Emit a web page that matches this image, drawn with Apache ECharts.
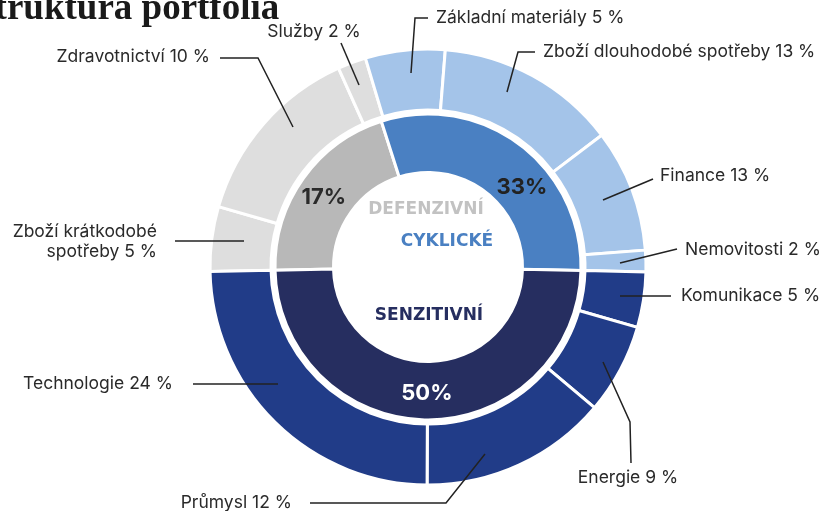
<!DOCTYPE html>
<html>
<head>
<meta charset="utf-8">
<script src="https://cdn.jsdelivr.net/npm/echarts@6/dist/echarts.min.js"></script>
<style>
  html, body { margin: 0; padding: 0; background: #fff; }
  #chart { width: 820px; height: 511px; }
</style>
</head>
<body>
<div id="chart"></div>
<script>
// vnitřní kruh – skupiny
const groupNames = ['DEFENZIVNÍ', 'CYKLICKÉ', 'SENZITIVNÍ'];
const groupShares = [17, 33, 50];            // vytištěné popisky
const groupValues = [20.4, 30.3, 49.3];      // úhel výseče

// vnější kruh – sektory
const sectorNames = [
  'Zboží krátkodobé\nspotřeby', 'Zdravotnictví', 'Služby',
  'Základní materiály', 'Zboží dlouhodobé spotřeby', 'Finance', 'Nemovitosti',
  'Komunikace', 'Energie', 'Průmysl', 'Technologie'
];
const sectorShares = [5, 10, 2, 5, 13, 13, 2, 5, 9, 12, 24];
const sectorValues = [4.8, 13.8, 2.1, 5.9, 13.4, 9.1, 1.6, 4.1, 6.7, 13.9, 24.6];
const sectorGroup = [0, 0, 0, 1, 1, 1, 1, 2, 2, 2, 2];

// barvy
const innerColors = ['#b8b8b8', '#4a80c2', '#262e60'];
const outerColors = ['#dedede', '#a4c4e9', '#213c88'];
const nameColors = ['#c2c2c2', '#4a80c2', '#262e60'];
const shareColors = ['#2a2a2a', '#222222', '#ffffff'];

const cx = 428, cy = 267;

// vodicí čáry popisků (relativně ke středu)
const guides = [
  { line: [[-184, -26], [-253, -26]], text: [-271, -25], align: 'right' },
  { line: [[-135, -140], [-170, -209], [-208, -209]], text: [-218, -210], align: 'right' },
  { line: [[-69, -182], [-87, -224]], text: [-114, -235], align: 'center' },
  { line: [[-17, -194], [-13, -249], [0, -249]], text: [8, -249], align: 'left' },
  { line: [[79, -175], [90, -215], [107, -215]], text: [115, -215], align: 'left' },
  { line: [[175, -67], [225, -88]], text: [232, -91], align: 'left' },
  { line: [[192, -4], [249, -18]], text: [257, -17], align: 'left' },
  { line: [[192, 29], [243, 29]], text: [253, 29], align: 'left' },
  { line: [[175, 95], [202, 155], [203, 196]], text: [200, 211], align: 'center' },
  { line: [[57, 187], [18, 236], [-118, 236]], text: [-136, 236], align: 'right' },
  { line: [[-150, 117], [-235, 117]], text: [-255, 117], align: 'right' }
];

// posun procent ve vnitřním kruhu
const shareNudge = [[-1, 4], [18, 22], [-1, 0]];
const namePos = [[-2, -57], [19, -25], [1, 49]];

// společné rozměry koláčů (velká plocha, aby se popisky neořezávaly)
const pieBox = { left: 0, top: 0, width: 1400, height: 1000, center: [cx, cy], startAngle: 181.2, clockwise: true, silent: true };

const chart = echarts.init(document.getElementById('chart'));

chart.setOption({
  animation: false,
  title: {
    text: 'Struktura portfolia',
    left: -26,
    top: -9,
    padding: 0,
    textStyle: {
      fontFamily: 'Liberation Serif',
      fontWeight: 'bold',
      fontSize: 37,
      color: '#1a1a1a'
    }
  },
  series: [
    Object.assign({}, pieBox, {
      type: 'pie',
      radius: [94.5, 153],
      itemStyle: { borderColor: '#fff', borderWidth: 3 },
      label: {
        position: 'inside',
        fontFamily: 'Inter',
        fontWeight: 'bold',
        fontSize: 22,
        formatter: p => groupShares[p.dataIndex] + '%'
      },
      labelLayout: p => ({ dx: shareNudge[p.dataIndex][0], dy: shareNudge[p.dataIndex][1] }),
      data: groupNames.map((n, i) => ({
        name: n,
        value: groupValues[i],
        itemStyle: { color: innerColors[i] },
        label: { color: shareColors[i] }
      }))
    }),
    Object.assign({}, pieBox, {
      type: 'pie',
      radius: [157, 218],
      itemStyle: { borderColor: '#fff', borderWidth: 3 },
      label: { show: false },
      labelLine: { show: false },
      data: sectorNames.map((n, i) => ({
        name: n,
        value: sectorValues[i],
        itemStyle: { color: outerColors[sectorGroup[i]] }
      }))
    }),
    Object.assign({}, pieBox, {
      // jen popisky vnějšího kruhu, nad výsečemi
      type: 'pie',
      z: 5,
      radius: [157, 218],
      itemStyle: { color: 'transparent', borderWidth: 0 },
      label: {
        position: 'outside',
        fontFamily: 'Inter',
        fontSize: 17.5,
        lineHeight: 20,
        color: '#2a2a2a',
        overflow: 'none',
        formatter: p => p.name + ' ' + sectorShares[p.dataIndex] + ' %'
      },
      labelLine: { show: true, lineStyle: { color: '#222', width: 1.5 } },
      labelLayout: p => {
        const g = guides[p.dataIndex];
        return {
          x: cx + g.text[0],
          y: cy + g.text[1],
          align: g.align,
          verticalAlign: 'middle',
          labelLinePoints: g.line.map(q => [cx + q[0], cy + q[1]])
        };
      },
      data: sectorNames.map((n, i) => ({ name: n, value: sectorValues[i] }))
    })
  ],
  graphic: groupNames.map((n, i) => ({
    type: 'text',
    x: cx + namePos[i][0],
    y: cy + namePos[i][1],
    style: {
      text: n,
      fill: nameColors[i],
      fontFamily: 'DejaVu Sans',
      fontWeight: 'bold',
      fontSize: 17,
      align: 'center',
      verticalAlign: 'middle'
    }
  }))
});
</script>
</body>
</html>
